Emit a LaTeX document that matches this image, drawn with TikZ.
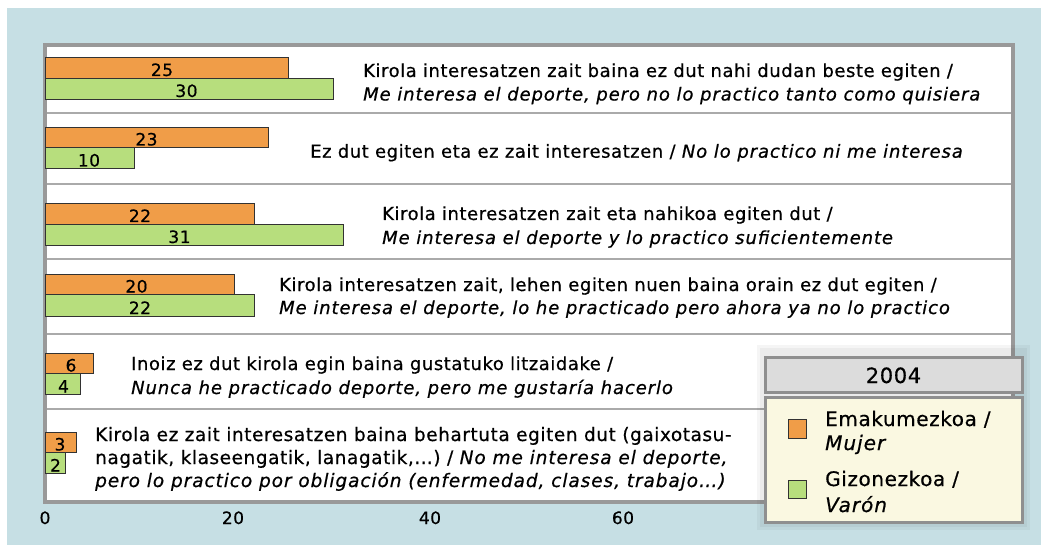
\documentclass[tikz,border=0pt]{standalone}
\usepackage{fontspec}
\setmainfont[FakeBold=0.6, LetterSpace=3, ItalicFeatures={LetterSpace=5}]{DejaVu Sans}
\definecolor{bgblue}{RGB}{198,223,228}
\definecolor{orangeC}{RGB}{240,157,72}
\definecolor{greenC}{RGB}{183,222,125}
\definecolor{frameC}{RGB}{153,153,153}
\definecolor{sepC}{RGB}{170,170,170}
\definecolor{barline}{RGB}{50,50,50}
\definecolor{creamC}{RGB}{250,248,225}
\definecolor{titleC}{RGB}{220,220,220}
\definecolor{legframe}{RGB}{143,143,143}
\tikzset{
  lbl/.style={font=\fontsize{18}{22}\selectfont, anchor=base west, inner sep=0pt},
  lblw/.style={font=\fontsize{18.5}{22}\selectfont, anchor=base west, inner sep=0pt},
  num/.style={font=\fontsize{17}{20}\selectfont, anchor=base, inner sep=0pt},
  axl/.style={font=\fontsize{17}{20}\selectfont, anchor=base, inner sep=0pt},
  legtxt/.style={font=\fontsize{20}{24}\selectfont, anchor=base west, inner sep=0pt},
  obar/.style={draw=barline, line width=0.9pt, fill=orangeC},
  gbar/.style={draw=barline, line width=0.9pt, fill=greenC},
  sepline/.style={draw=sepC, line width=2pt},
  plotframe/.style={draw=frameC, line width=4pt, fill=white},
  legbox/.style={draw=legframe, line width=3pt},
}
\begin{document}
\begin{tikzpicture}[x=1pt,y=-1pt]
\useasboundingbox (0,0) rectangle (1041,545);
\fill[bgblue] (7,8) rectangle (1041,545);
% plot area
\draw[plotframe] (45.3,45.3) rectangle (1013.3,501.7);
\foreach \yy in {113.3,184,259.5,334,408.5} \draw[sepline] (47,\yy) -- (1011.3,\yy);
% bars
\draw[obar] (45.5,57) rectangle (288,78);
\draw[gbar] (45.5,78) rectangle (333,99);
\draw[obar] (45.5,127) rectangle (268,147);
\draw[gbar] (45.5,147) rectangle (134,168);
\draw[obar] (45.5,203) rectangle (254,224);
\draw[gbar] (45.5,224) rectangle (343,245);
\draw[obar] (45.5,274) rectangle (234,294);
\draw[gbar] (45.5,294) rectangle (254,316);
\draw[obar] (45.5,353) rectangle (93,373);
\draw[gbar] (45.5,373) rectangle (80,394);
\draw[obar] (45.5,432) rectangle (76,452);
\draw[gbar] (45.5,452) rectangle (65,473);
% bar values
\node[num] (v1o) at (162,76) {25};
\node[num] (v1g) at (186.5,97) {30};
\node[num] (v2o) at (146.5,145.5) {23};
\node[num] (v2g) at (89,166.5) {10};
\node[num] (v3o) at (140,222) {22};
\node[num] (v3g) at (179.5,243) {31};
\node[num] (v4o) at (136.5,292.5) {20};
\node[num] (v4g) at (140,314) {22};
\node[num] (v5o) at (71,371.5) {6};
\node[num] (v5g) at (63.5,392.5) {4};
\node[num] (v6o) at (60,450.5) {3};
\node[num] (v6g) at (55.5,471.5) {2};
% category labels
\node[lbl] (t1a) at (363,77) {Kirola interesatzen zait baina ez dut nahi dudan beste egiten /};
\node[lbl] (t1b) at (363,100.5) {\itshape Me interesa el deporte, pero no lo practico tanto como quisiera};
\node[lbl] (t2a) at (310,157.7) {Ez dut egiten eta ez zait interesatzen / \textit{No lo practico ni me interesa}};
\node[lbl] (t3a) at (382,220) {Kirola interesatzen zait eta nahikoa egiten dut /};
\node[lbl] (t3b) at (382,244) {\itshape Me interesa el deporte y lo practico suficientemente};
\node[lbl] (t4a) at (279,291) {Kirola interesatzen zait, lehen egiten nuen baina orain ez dut egiten /};
\node[lbl] (t4b) at (279,314) {\itshape Me interesa el deporte, lo he practicado pero ahora ya no lo practico};
\node[lbl] (t5a) at (131,370) {Inoiz ez dut kirola egin baina gustatuko litzaidake /};
\node[lbl] (t5b) at (131,394) {\itshape Nunca he practicado deporte, pero me gustaría hacerlo};
\node[lblw] (t6a) at (95,441) {Kirola ez zait interesatzen baina behartuta egiten dut (gaixotasu-};
\node[lblw] (t6b) at (95,464) {nagatik, klaseengatik, lanagatik,…) / \textit{No me interesa el deporte,}};
\node[lblw] (t6c) at (95,487) {\itshape pero lo practico por obligación (enfermedad, clases, trabajo…)};
% axis labels
\node[axl] (a0) at (45,524) {0};
\node[axl] (a20) at (233,524) {20};
\node[axl] (a40) at (430,524) {40};
\node[axl] (a60) at (623,524) {60};
% legend shadow
\fill[black, opacity=0.04] (757,345) rectangle (1030,530);
\fill[black, opacity=0.04] (760,348) rectangle (1027,527);
% legend
\draw[legbox, fill=titleC] (765,357) rectangle (1022,392);
\node[font=\fontsize{21}{24}\selectfont, anchor=base, inner sep=0pt] (yr) at (893.5,383) {2004};
\draw[legbox, fill=creamC] (765,397) rectangle (1022,522);
\draw[obar] (788,419) rectangle (806,438);
\draw[gbar] (788,480) rectangle (806,498);
\node[legtxt] (l1a) at (825,426) {Emakumezkoa /};
\node[legtxt] (l1b) at (825,450) {\itshape Mujer};
\node[legtxt] (l2a) at (825,486) {Gizonezkoa /};
\node[legtxt] (l2b) at (825,512) {\itshape Varón};
\end{tikzpicture}
\end{document}
